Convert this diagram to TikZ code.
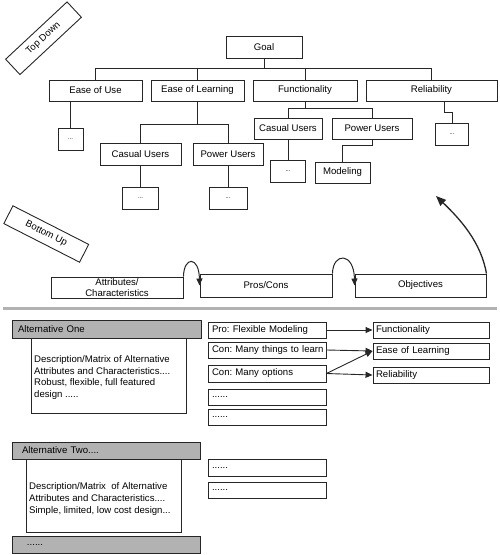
\documentclass[tikz,border=0pt]{standalone}
\usepackage{fontspec}
\setmainfont{Liberation Sans}
\usetikzlibrary{arrows.meta}
\frenchspacing
\begin{document}
\begin{tikzpicture}[x=1pt,y=-1pt,
  box/.style={draw=black!85, line width=0.9pt, inner sep=0pt, align=center,
    font=\fontsize{9.6}{10}\selectfont},
  sz/.style 2 args={minimum width=#1pt, minimum height=#2pt},
  dotbox/.style={box, font=\fontsize{6}{7}\selectfont},
  lst/.style={box, align=left, inner xsep=4pt, text width=110pt, minimum height=#1pt},
  tgt/.style={box, align=left, inner xsep=3pt, text width=110pt, minimum height=16pt},
  hdr/.style={box, fill=black!30, align=left},
  desc/.style={inner sep=0pt, align=left, font=\fontsize{9.6}{11.7}\selectfont},
  conn/.style={draw=black!85, line width=0.9pt},
  arr/.style={conn, -{Triangle[length=7pt,width=6pt]}},
  loop/.style={conn, line width=1pt, -{Triangle[length=7pt,width=6pt]}},
  big/.style={conn, line width=1.3pt, -{Triangle[length=10pt,width=8pt]}}]
\useasboundingbox (0,0) rectangle (500,555);

% labels
\node[box, rotate=43, sz={84}{21}] (td) at (43.5,38.25) {Top Down};
\node[box, rotate=-27, sz={85}{20}] (bu) at (46.25,234) {Bottom Up};

% tree
\node[box, sz={76}{22}] (goal) at (264,47) {Goal};
\node[box, sz={93}{21}] (eou) at (95.5,90.5) {Ease of Use};
\node[box, sz={93}{21}] (eol) at (197.5,90.5) {Ease of Learning};
\node[box, sz={104}{21}] (fun) at (305,90.5) {Functionality};
\node[box, sz={131}{21}] (rel) at (431.5,90.5) {Reliability};

\node[dotbox, sz={25}{22}] (dot1) at (70.5,139) {...};
\node[box, sz={81}{22}] (cu1) at (140.5,154) {Casual Users};
\node[box, sz={70}{22}] (pu1) at (228,154) {Power Users};
\node[dotbox, sz={36}{22}] (dot2) at (140.5,198) {...};
\node[dotbox, sz={38}{22}] (dot3) at (228,198) {...};

\node[box, sz={68}{21}] (cu2) at (288,128.5) {Casual Users};
\node[box, sz={80}{21}] (pu2) at (372,128.5) {Power Users};
\node[dotbox, sz={35}{22}] (dot4) at (288,171) {...};
\node[box, sz={55}{21}] (mod) at (342.5,172.5) {Modeling};
\node[dotbox, sz={33}{22}] (dot5) at (452,134) {...};

\draw[conn] (goal.south) -- ++(0,11);
\draw[conn] (eou.north) -- ++(0,-11) -| (rel.north);
\draw[conn] (eol.north) -- ++(0,-11);
\draw[conn] (fun.north) -- ++(0,-11);
\draw[conn] (eou.south -| dot1.north) -- (dot1.north);
\draw[conn] (eol.south) -- ++(0,24);
\draw[conn] (cu1.north) -- ++(0,-18) -| (pu1.north);
\draw[conn] (cu1.south) -- (dot2.north);
\draw[conn] (pu1.south) -- (dot3.north);
\draw[conn] (fun.south) -- ++(0,8);
\draw[conn] (cu2.north) -- ++(0,-9) -| (pu2.north);
\draw[conn] (cu2.south) -- (dot4.north);
\draw[conn] (pu2.south) -- ++(0,6) -| (mod.north);
\coordinate (rk) at (444,112);
\draw[conn] (rel.south -| rk) -- (rk) -| (dot5.north);

% bottom-up row
\node[box, sz={132}{21}, font=\fontsize{9.6}{10.5}\selectfont] (attr) at (117,287.5) {Attributes/\\Characteristics};
\node[box, sz={132}{23}] (pros) at (266,285.5) {Pros/Cons};
\node[box, sz={131}{23}] (obj) at (420.5,285.5) {Objectives};

\draw[loop] (attr.north east) .. controls (184,256) and (199,256) .. (pros.west);
\draw[loop] (pros.north east) .. controls (333,252) and (354,252) .. (obj.west);
\coordinate (tip) at (436,196);
\draw[big] (obj.north east) .. controls (481,242) and (460,219) .. (tip);

% separator
\draw[line width=3pt, draw=black!30] (3,308) -- (497,308);

% alternative one
\node[box, sz={155}{75}] (d1) at (108.5,375.5) {};
\node[hdr, text width=177pt, inner xsep=6pt, minimum height=18pt] (a1) at (106.5,329) {Alternative One};
\node[desc, anchor=west] (d1t) at (34,377.5) {Description/Matrix of Alternative\\Attributes and Characteristics....\\Robust, flexible, full featured\\design .....};

\node[lst=16] (p1) at (267,330) {Pro: Flexible Modeling};
\node[lst=16] (c1) at (267,350) {\mbox{Con: Many things to learn}};
\node[lst=17] (c2) at (267,373.5) {Con: Many options};
\node[lst=16] (x1) at (267,397) {......};
\node[lst=16] (x2) at (267,417) {......};

\node[tgt] (t1) at (431,330) {Functionality};
\node[tgt] (t2) at (431,351) {Ease of Learning};
\node[tgt] (t3) at (431,375) {Reliability};

\draw[arr] (p1.east) -- (t1.west);
\draw[arr] (c1.east) -- (t2.west);
\draw[arr] (c2.east) -- (t2.west);
\draw[arr] (c2.east) -- (t3.west);

% alternative two
\node[box, sz={155}{73}] (d2) at (103.5,495.5) {};
\node[hdr, text width=168pt, inner xsep=10pt, minimum height=17pt] (a2) at (106,450.5) {Alternative Two....};
\node[desc, anchor=west] (d2t) at (29,499) {Description/Matrix\ \ of Alternative\\Attributes and Characteristics....\\Simple, limited, low cost design...};
\node[hdr, text width=158pt, inner xsep=15pt, minimum height=17pt] (a3) at (106,544.5) {......};

\node[lst=17] (y1) at (267,467.5) {......};
\node[lst=16] (y2) at (267,490) {......};
\end{tikzpicture}
\end{document}
